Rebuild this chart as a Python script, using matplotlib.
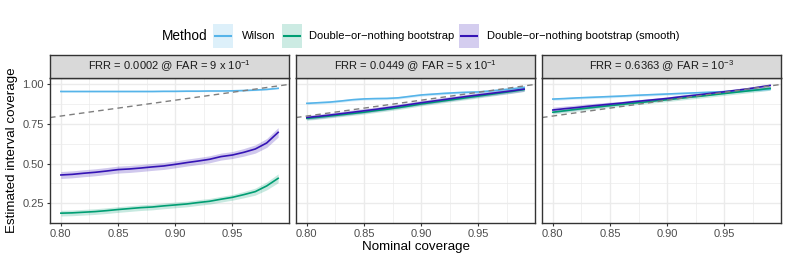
import numpy as np
import matplotlib.pyplot as plt
from matplotlib.patches import Rectangle
from matplotlib.lines import Line2D

plt.rcParams['font.family'] = ['Liberation Sans', 'DejaVu Sans']
plt.rcParams['mathtext.fontset'] = 'custom'
plt.rcParams['mathtext.rm'] = 'Liberation Sans'

# nominal coverage levels
nominal = np.round(np.arange(0.80, 0.995, 0.01), 2)

panel_titles = [r"FRR = 0.0002 @ FAR = 9 x 10$^{-1}$",
                r"FRR = 0.0449 @ FAR = 5 x 10$^{-1}$",
                r"FRR = 0.6363 @ FAR = 10$^{-3}$"]

methods = ["Wilson", "Double\u2212or\u2212nothing bootstrap",
           "Double\u2212or\u2212nothing bootstrap (smooth)"]
line_colors = ["#56B4E9", "#009E73", "#3514B5"]
fill_colors = ["#56B4E9", "#009E73", "#2A05B0"]

# estimated coverage, one list per panel per method
wilson_1 = [0.955, 0.955, 0.955, 0.955, 0.955, 0.955, 0.955, 0.955, 0.955, 0.956,
            0.956, 0.957, 0.957, 0.958, 0.958, 0.959, 0.961, 0.964, 0.968, 0.975]
boot_1 = [0.187, 0.189, 0.193, 0.197, 0.203, 0.210, 0.216, 0.222, 0.226, 0.233,
          0.239, 0.245, 0.254, 0.262, 0.275, 0.287, 0.304, 0.323, 0.359, 0.407]
smooth_1 = [0.428, 0.432, 0.439, 0.445, 0.453, 0.462, 0.466, 0.472, 0.479, 0.485,
            0.495, 0.506, 0.516, 0.527, 0.544, 0.554, 0.571, 0.592, 0.630, 0.697]

wilson_2 = [0.880, 0.884, 0.888, 0.895, 0.903, 0.908, 0.910, 0.911, 0.915, 0.924,
            0.933, 0.938, 0.943, 0.947, 0.950, 0.952, 0.958, 0.965, 0.972, 0.981]
boot_2 = [0.785, 0.792, 0.800, 0.808, 0.816, 0.824, 0.834, 0.843, 0.853, 0.864,
          0.876, 0.886, 0.896, 0.906, 0.916, 0.926, 0.936, 0.946, 0.956, 0.967]
smooth_2 = [0.791, 0.798, 0.806, 0.815, 0.824, 0.833, 0.842, 0.852, 0.862, 0.873,
            0.884, 0.894, 0.904, 0.914, 0.924, 0.933, 0.942, 0.951, 0.960, 0.970]

wilson_3 = [0.907, 0.910, 0.914, 0.917, 0.920, 0.923, 0.926, 0.930, 0.933, 0.936,
            0.939, 0.942, 0.945, 0.948, 0.951, 0.954, 0.958, 0.961, 0.965, 0.970]
boot_3 = [0.824, 0.833, 0.842, 0.850, 0.858, 0.866, 0.873, 0.881, 0.888, 0.896,
          0.903, 0.911, 0.919, 0.926, 0.934, 0.942, 0.950, 0.958, 0.966, 0.975]
smooth_3 = [0.838, 0.846, 0.853, 0.861, 0.868, 0.875, 0.882, 0.890, 0.897, 0.904,
            0.911, 0.920, 0.928, 0.936, 0.945, 0.953, 0.962, 0.971, 0.982, 0.993]

# half widths of the ribbons
half_width = [
    [[0.004] * 20, [0.018] * 16 + [0.020, 0.022, 0.025, 0.028], [0.022] * 16 + [0.024, 0.026, 0.028, 0.030]],
    [[0.008] * 20, [0.012] * 20, [0.014] * 20],
    [[0.008] * 20, [0.012] * 20, [0.018, 0.017, 0.016, 0.015, 0.014, 0.013] + [0.010] * 14],
]

panels = [[wilson_1, boot_1, smooth_1],
          [wilson_2, boot_2, smooth_2],
          [wilson_3, boot_3, smooth_3]]

W, H = 789, 263
fig = plt.figure(figsize=(W / 100, H / 100), dpi=100)

lefts = [50, 296, 542]
pw = 239
top, bottom, strip_top = 78, 223, 55

for i, left in enumerate(lefts):
    ax = fig.add_axes([left / W, 1 - bottom / H, pw / W, (bottom - top) / H])
    ax.set_xlim(0.7905, 0.9995)
    ax.set_ylim(0.125, 1.04)
    ax.set_xticks([0.80, 0.85, 0.90, 0.95])
    ax.set_xticks([0.825, 0.875, 0.925, 0.975], minor=True)
    ax.set_yticks([0.25, 0.50, 0.75, 1.00])
    ax.set_yticks([0.125, 0.375, 0.625, 0.875], minor=True)
    ax.grid(True, which='major', color='#EBEBEB', lw=1.0)
    ax.grid(True, which='minor', color='#EBEBEB', lw=0.5)
    ax.set_axisbelow(True)
    ax.tick_params(which='minor', length=0)
    ax.tick_params(which='major', length=2.5, width=0.8, color='#333333',
                   labelsize=8, labelcolor='#4D4D4D', pad=2)
    ax.xaxis.set_major_formatter(plt.FuncFormatter(lambda v, p: f"{v:.2f}"))
    ax.yaxis.set_major_formatter(plt.FuncFormatter(lambda v, p: f"{v:.2f}"))
    for s in ax.spines.values():
        s.set_color('#333333')
        s.set_linewidth(1.0)
    if i > 0:
        ax.tick_params(axis='y', which='both', left=False, labelleft=False)

    for j in range(3):
        y = np.array(panels[i][j])
        hw = np.array(half_width[i][j])
        ax.fill_between(nominal, y - hw, y + hw, color=fill_colors[j], alpha=0.22, lw=0)
        ax.plot(nominal, y, color=line_colors[j], lw=1.2)

    xs = np.array(ax.get_xlim())
    ax.plot(xs, xs, ls=(0, (4, 3)), color='#7F7F7F', lw=1.0)

    sax = fig.add_axes([left / W, 1 - top / H, pw / W, (top - strip_top) / H])
    sax.set_facecolor('#D9D9D9')
    sax.set_xticks([])
    sax.set_yticks([])
    for s in sax.spines.values():
        s.set_color('#333333')
        s.set_linewidth(1.0)
    sax.text(0.5, 0.5, panel_titles[i], ha='center', va='center',
             fontsize=8, color='#1A1A1A', transform=sax.transAxes)

    if i == 0:
        ax.set_ylabel("Estimated interval coverage", fontsize=9.6, labelpad=3)
    if i == 1:
        ax.set_xlabel("Nominal coverage", fontsize=9.6, labelpad=1)

# legend on top
ly = 1 - 36 / H
fig.text(162 / W, ly, "Method", fontsize=9.8, va='center', ha='left')
key_x = [213, 282, 459]
text_x = [242, 309, 487]
for j in range(3):
    kx = key_x[j] / W
    kw, kh = 20 / W, 24 / H
    fig.add_artist(Rectangle((kx, ly - kh / 2), kw, kh, transform=fig.transFigure,
                             facecolor=fill_colors[j], alpha=0.2, lw=0))
    fig.add_artist(Line2D([kx + 2 / W, kx + kw - 2 / W], [ly, ly], transform=fig.transFigure,
                          color=line_colors[j], lw=1.5))
    fig.text(text_x[j] / W, ly, methods[j], fontsize=8, va='center', ha='left')

fig.savefig("out.png", dpi=100)
